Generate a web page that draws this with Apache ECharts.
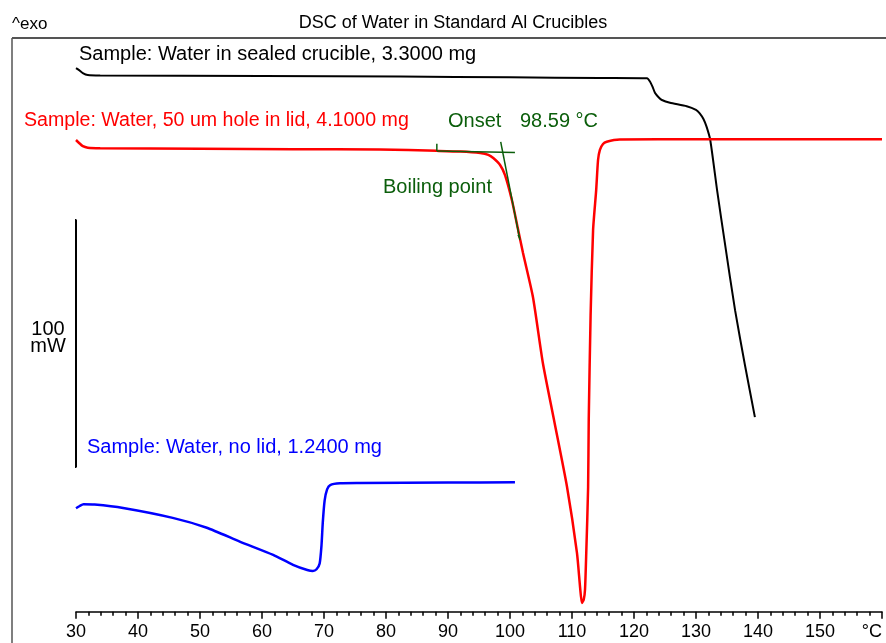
<!DOCTYPE html>
<html>
<head>
<meta charset="utf-8">
<title>DSC of Water in Standard Al Crucibles</title>
<script src="https://cdn.jsdelivr.net/npm/echarts@6/dist/echarts.min.js"></script>
<style>
  html, body { margin: 0; padding: 0; background: #fff; }
  #chart { width: 886px; height: 643px; }
</style>
</head>
<body>
<div id="chart"></div>
<script>
// temperature (°C), heat flow (mW, offset is arbitrary)
var sealed = [
  [30.0, 220.1], [30.5, 219.3], [31.1, 218.1], [31.9, 217.3], [33.9, 217.1],
  [60, 216.9], [82.3, 216.7], [100, 216.4], [114.5, 216.1], [122.1, 216.0],
  [122.6, 214.6], [123.0, 212.5], [123.4, 210.0], [124.0, 208.2], [124.5, 207.2],
  [125.8, 206.1], [128.5, 204.7], [130.0, 203.2], [130.6, 201.8], [131.2, 199.5],
  [131.7, 196.4], [132.3, 191.0], [133.4, 170.7], [134.7, 148.5], [136.3, 122.1],
  [137.9, 99.8], [139.5, 78.8]
];
var hole50um = [
  [30.0, 191.0], [30.5, 189.8], [31.1, 188.5], [31.9, 187.9], [33.9, 187.7],
  [50, 187.5], [65, 187.3], [79.0, 187.2], [88.2, 186.6], [92, 186.3],
  [95.2, 185.7], [96.5, 185.0], [97.3, 183.7], [98.4, 180.9], [99.2, 176.8],
  [100.3, 166.7], [101.2, 156.0], [102.1, 145.2], [103.7, 127.4], [105.3, 100.7],
  [107.1, 77.6], [109.2, 50.5], [110.8, 23.8], [111.3, 10.0], [111.6, 3.5],
  [111.9, 5.0], [112.1, 9.0], [112.3, 23.8], [112.6, 50.5], [112.7, 77.6],
  [113.0, 120.0], [113.4, 154.5], [113.9, 170.7], [114.2, 182.9], [114.5, 187.0],
  [115.0, 189.4], [115.6, 190.3], [117.7, 191.2], [130, 191.3], [160, 191.3]
];
var noLid = [
  [30.0, 41.9], [30.6, 42.8], [31.2, 43.5], [33.0, 43.4], [37.6, 42.0],
  [45.6, 38.0], [51.1, 34.0], [56.5, 28.3], [61.8, 23.0], [65.0, 19.0],
  [67.3, 16.9], [68.2, 16.5], [68.8, 17.2], [69.3, 19.5], [69.6, 27.0],
  [69.8, 36.0], [70.1, 45.0], [70.5, 49.5], [71.0, 51.3], [72.6, 52.0],
  [75.8, 52.1], [90, 52.3], [100.8, 52.4]
];
// onset evaluation (baseline + inflection tangent)
var onsetBaseline = [[88.2, 186.5], [100.8, 185.9]];
var onsetTangent = [[98.5, 190.2], [101.6, 150.5]];
var baselineFlag = [[88.2, 186.5], [88.2, 189.5]];
var tangentFlag = [[101.5, 151.6], [101.3, 152.6]];
// 100 mW scale bar
var scaleBar = [[28.7, 158.6], [30, 158.6], [30, 58.6], [28.7, 58.6]];

var tempMin = 30, tempMax = 160, tempStep = 10;
var sampleNames = [
  'Sample: Water in sealed crucible, 3.3000 mg',
  'Sample: Water, 50 um hole in lid, 4.1000 mg',
  'Sample: Water, no lid, 1.2400 mg'
];

var FONT = '"Liberation Sans", Arial, sans-serif';
var GREEN = '#0b5e0b';

var myChart = echarts.init(document.getElementById('chart'));

function curve(name, data, color, width, smooth) {
  return {
    name: name, type: 'line', data: data, showSymbol: false, symbol: 'none',
    clip: false, silent: true, animation: false,
    smooth: smooth || false, smoothMonotone: 'none',
    lineStyle: { color: color, width: width }
  };
}

var option = {
  backgroundColor: '#fff',
  animation: false,
  grid: { left: 76, right: 4, top: 38, bottom: 31.3, outerBoundsMode: 'none', containLabel: false },
  xAxis: {
    type: 'value', min: tempMin, max: tempMax, interval: tempStep,
    splitLine: { show: false },
    axisLine: { onZero: false, lineStyle: { color: '#000', width: 1.5 } },
    axisTick: { length: 7, lineStyle: { color: '#000', width: 1.5 } },
    minorTick: { show: true, splitNumber: 5, length: 4, lineStyle: { color: '#000', width: 1.5 } },
    axisLabel: {
      margin: 11, fontFamily: FONT, fontSize: 18, color: '#000',
      showMinLabel: true, showMaxLabel: true, alignMaxLabel: 'right',
      formatter: function (v) { return v === tempMax ? '°C' : String(v); }
    }
  },
  yAxis: { type: 'value', min: 0, max: 232.3, show: false },
  graphic: [
    { type: 'line', shape: { x1: 12, y1: 38, x2: 886, y2: 38 }, style: { stroke: '#555', lineWidth: 2 } },
    { type: 'line', shape: { x1: 12, y1: 38, x2: 12, y2: 643 }, style: { stroke: '#555', lineWidth: 1.5 } },
    { type: 'text', x: 453, y: 23, style: { text: 'DSC of Water in Standard Al Crucibles', font: '18px ' + FONT, fill: '#000', align: 'center', verticalAlign: 'middle' } },
    { type: 'text', x: 12, y: 24, style: { text: '^exo', font: '17px ' + FONT, fill: '#000', align: 'left', verticalAlign: 'middle' } },
    { type: 'text', x: 79, y: 54, style: { text: sampleNames[0], font: '20px ' + FONT, fill: '#000', verticalAlign: 'middle' } },
    { type: 'text', x: 24, y: 121, style: { text: sampleNames[1], font: '19.6px ' + FONT, fill: '#ff0000', verticalAlign: 'middle' } },
    { type: 'text', x: 87, y: 447, style: { text: sampleNames[2], font: '20px ' + FONT, fill: '#0000ff', verticalAlign: 'middle' } },
    { type: 'text', x: 448, y: 121, style: { text: 'Onset', font: '20px ' + FONT, fill: GREEN, verticalAlign: 'middle' } },
    { type: 'text', x: 520, y: 121, style: { text: '98.59 °C', font: '20px ' + FONT, fill: GREEN, verticalAlign: 'middle' } },
    { type: 'text', x: 383, y: 187, style: { text: 'Boiling point', font: '20px ' + FONT, fill: GREEN, verticalAlign: 'middle' } },
    { type: 'text', x: 48, y: 329, style: { text: '100', font: '20px ' + FONT, fill: '#000', align: 'center', verticalAlign: 'middle' } },
    { type: 'text', x: 48, y: 346, style: { text: 'mW', font: '20px ' + FONT, fill: '#000', align: 'center', verticalAlign: 'middle' } }
  ],
  series: [
    curve('scale', scaleBar, '#000', 2),
    curve('sealed', sealed, '#000', 2, 0.2),
    curve('50 um hole', hole50um, '#ff0000', 2.5, 0.2),
    curve('no lid', noLid, '#0000ff', 2.5, 0.2),
    curve('baseline', onsetBaseline, GREEN, 1.5),
    curve('tangent', onsetTangent, GREEN, 1.5),
    curve('flag1', baselineFlag, GREEN, 1.5),
    curve('flag2', tangentFlag, GREEN, 1.5)
  ]
};

myChart.setOption(option);
</script>
</body>
</html>
